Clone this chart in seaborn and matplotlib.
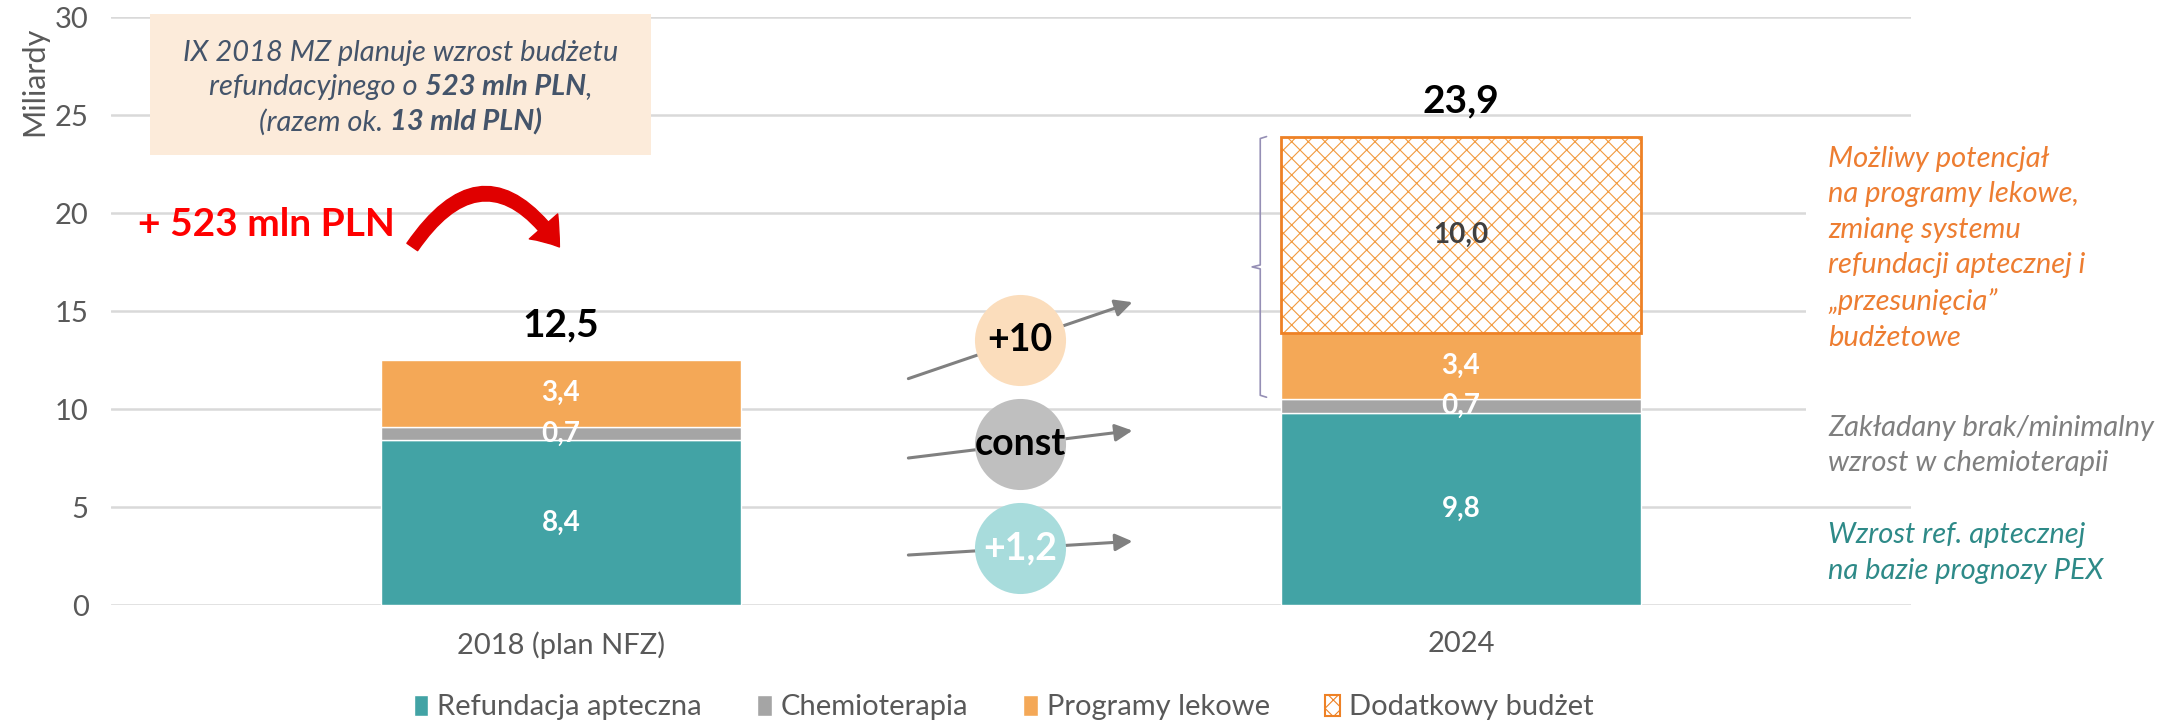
import pandas as pd
import seaborn as sns
import matplotlib.pyplot as plt
from matplotlib.patches import Patch, Rectangle, FancyArrowPatch
from matplotlib.offsetbox import TextArea, HPacker, VPacker, AnnotationBbox

# data (miliardy PLN)
years = ['2018 (plan NFZ)', '2024']
refundacja = [8.4, 9.8]
chemioterapia = [0.7, 0.7]
programy = [3.4, 3.4]
dodatkowy = [0.0, 10.0]
totals = [12.5, 23.9]
series_names = ['Refundacja apteczna', 'Chemioterapia', 'Programy lekowe', 'Dodatkowy budżet']
change_labels = ['+10', 'const', '+1,2']

TEAL = '#42A3A5'
GRAY = '#A5A5A5'
ORANGE = '#F4A857'
HATCH = '#F29A3E'
EDGE = '#EE8125'
TXT = '#595959'

sns.set_theme(style='white')
plt.rcParams['font.family'] = ['Lato', 'DejaVu Sans']
plt.rcParams['hatch.linewidth'] = 0.8


def fmt(v):
    return f'{v:.1f}'.replace('.', ',')


fig = plt.figure(figsize=(21.72, 7.27), dpi=100)
ax = fig.add_axes([0.0511, 0.1678, 0.8287, 0.8088])

df = pd.DataFrame({'rok': years, 'ref': refundacja, 'chemo': chemioterapia,
                   'prog': programy, 'dod': dodatkowy})
df['b_chemo'] = df['ref']
df['b_prog'] = df['ref'] + df['chemo']
df['b_dod'] = df['b_prog'] + df['prog']

common = dict(x='rok', order=years, width=0.4, saturation=1, errorbar=None, ax=ax)
sns.barplot(data=df, y='ref', color=TEAL, **common)
sns.barplot(data=df, y='chemo', bottom=df['b_chemo'].to_numpy(), color=GRAY, **common)
sns.barplot(data=df, y='prog', bottom=df['b_prog'].to_numpy(), color=ORANGE, **common)
dod = df[df['dod'] > 0]
sns.barplot(data=dod, y='dod', bottom=dod['b_dod'].to_numpy(), color='white',
            edgecolor=HATCH, linewidth=0, hatch='xx', **common)
# outline of the extra-budget segment
sns.barplot(data=dod, y='dod', bottom=dod['b_dod'].to_numpy(), fill=False,
            edgecolor=EDGE, linewidth=2, **common)

# segment labels
seg_vals = [refundacja, chemioterapia, programy, list(dod['dod'])]
seg_cols = ['white', 'white', 'white', '#404040']
for cont, vals, col in zip(ax.containers[:4], seg_vals, seg_cols):
    ax.bar_label(cont, labels=[fmt(v) for v in vals], label_type='center',
                 color=col, fontsize=20, fontweight='bold', zorder=5)

# totals
for i, t in enumerate(totals):
    ax.text(i, t + 1.8, fmt(t), ha='center', va='center', fontsize=28,
            fontweight='bold', color='black')

# change bubbles with arrows
bub_y = [13.5, 8.2, 2.9]
bub_dy = [1.95, 0.7, 0.35]
bub_fc = ['#FBDDBC', '#BFBFBF', '#A8DCDC']
bub_tc = ['black', 'black', 'white']
for lab, y, dy, fc, tc in zip(change_labels, bub_y, bub_dy, bub_fc, bub_tc):
    ax.annotate('', xy=(0.635, y + dy), xytext=(0.386, y - dy),
                arrowprops=dict(arrowstyle='-|>', color='#808080', lw=2.2,
                                mutation_scale=26, shrinkA=0, shrinkB=0), zorder=4)
    ax.scatter([0.51], [y], s=4300, color=fc, linewidths=0, zorder=5)
    ax.text(0.51, y, lab, ha='center', va='center', fontsize=27,
            fontweight='bold', color=tc, zorder=6)

# bracket next to 2024 bar
b_lo = refundacja[1] + chemioterapia[1] + 0.1
b_hi = totals[1]
b_mid = (b_lo + b_hi) / 2
ax.plot([0.784, 0.777, 0.777, 0.768, 0.777, 0.777, 0.784],
        [b_hi, b_hi - 0.1, b_mid + 0.1, b_mid, b_mid - 0.1, b_lo + 0.1, b_lo],
        color='#958FB5', lw=1.2, zorder=3)

# info box
ax.add_patch(Rectangle((-0.457, 22.96), 0.557, 7.2, facecolor='#FCEBDA',
                       edgecolor='none', clip_on=False, zorder=2))
it = dict(color='#44546A', fontsize=21, fontstyle='italic')
bt = dict(color='#44546A', fontsize=21, fontstyle='italic', fontweight='bold')
lines = VPacker(children=[
    HPacker(children=[TextArea('IX 2018 MZ planuje wzrost budżetu', textprops=it)], pad=0, sep=0),
    HPacker(children=[TextArea('refundacyjnego o ', textprops=it),
                      TextArea('523 mln PLN', textprops=bt),
                      TextArea(',', textprops=it)], pad=0, sep=0),
    HPacker(children=[TextArea('(razem ok. ', textprops=it),
                      TextArea('13 mld PLN)', textprops=bt)], pad=0, sep=0),
], align='center', pad=0, sep=6)
ax.add_artist(AnnotationBbox(lines, (-0.178, 26.4), frameon=False, box_alignment=(0.5, 0.5),
                             annotation_clip=False, zorder=3))

# +523 mln PLN with curved arrow
ax.text(-0.47, 19.4, '+ 523 mln PLN', color='#FF0000', fontsize=28,
        fontweight='bold', va='center', ha='left')
ax.add_patch(FancyArrowPatch((-0.167, 18.15), (0.0, 18.15),
                             connectionstyle='arc3,rad=-0.74',
                             arrowstyle='simple,head_length=1.1,head_width=1.6,tail_width=0.55',
                             mutation_scale=17, color='#E00000', zorder=4))

# right-hand comments
ax.text(1.408, 18.2, 'Możliwy potencjał\nna programy lekowe,\nzmianę systemu\n'
        'refundacji aptecznej i\n„przesunięcia”\nbudżetowe',
        color='#ED7D31', fontsize=21, fontstyle='italic', ha='left', va='center',
        linespacing=1.45, bbox=dict(facecolor='white', edgecolor='none', pad=16), zorder=3)
ax.text(1.408, 8.15, 'Zakładany brak/minimalny\nwzrost w chemioterapii',
        color='#7F7F7F', fontsize=21, fontstyle='italic', ha='left', va='center',
        linespacing=1.45, bbox=dict(facecolor='white', edgecolor='none', pad=16), zorder=3)
ax.text(1.408, 2.65, 'Wzrost ref. aptecznej\nna bazie prognozy PEX',
        color='#2E8A88', fontsize=21, fontstyle='italic', ha='left', va='center',
        linespacing=1.45, zorder=3)

# axes styling
ax.set_ylim(0, 30)
ax.set_xlim(-0.5, 1.5)
ax.set_yticks(range(0, 31, 5))
ax.yaxis.grid(True, color='#D9D9D9', lw=1.8)
ax.set_axisbelow(True)
sns.despine(ax=ax, left=True, bottom=True)
ax.tick_params(axis='y', length=0, pad=16, labelsize=21, labelcolor=TXT)
ax.tick_params(axis='x', length=0, pad=19, labelsize=21, labelcolor=TXT)
ax.set_xlabel('')
ax.set_ylabel('Miliardy', loc='top', fontsize=22, color=TXT)
ax.yaxis.set_label_coords(-0.035, 0.983)

handles = [Patch(facecolor=TEAL), Patch(facecolor=GRAY), Patch(facecolor=ORANGE),
           Patch(facecolor='white', edgecolor=EDGE, hatch='xx', lw=1.5)]
fig.legend(handles, series_names, loc='center', bbox_to_anchor=(0.462, 0.027), ncol=4,
           frameon=False, fontsize=21, labelcolor=TXT, handlelength=0.5,
           handleheight=0.75, handletextpad=0.3, columnspacing=1.9)

fig.savefig('out.png', dpi=100)
